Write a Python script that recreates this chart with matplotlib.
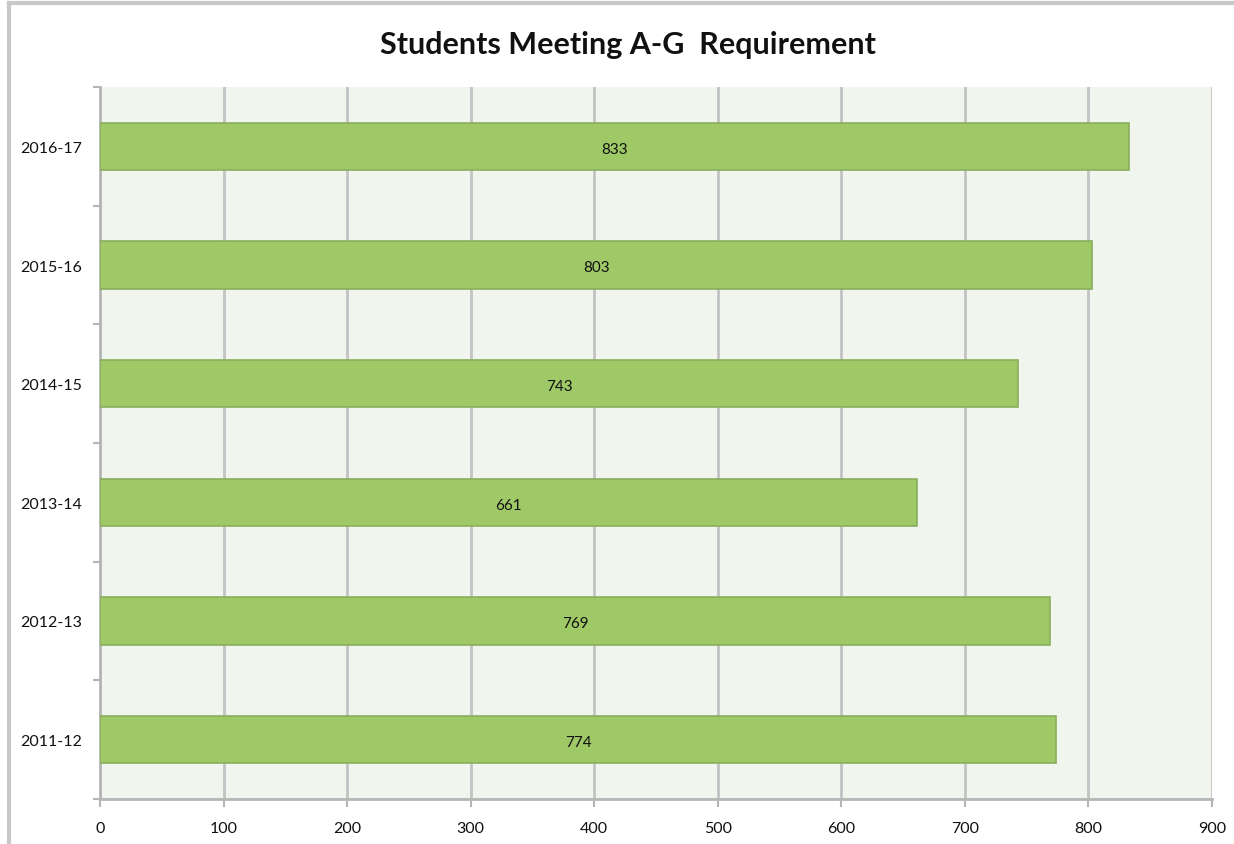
import matplotlib
matplotlib.use("Agg")
import matplotlib.pyplot as plt
from matplotlib.lines import Line2D
import numpy as np

categories = ["2011-12", "2012-13", "2013-14", "2014-15", "2015-16", "2016-17"]
values = [774, 769, 661, 743, 803, 833]
xticks = [0, 100, 200, 300, 400, 500, 600, 700, 800, 900]
title = "Students Meeting A-G  Requirement"

plt.rcParams['font.family'] = ['Lato', 'DejaVu Sans']

fig = plt.figure(figsize=(12.34, 8.45), dpi=100)
ax = fig.add_axes([100/1234, 1 - 800/845, 1112/1234, 712/845])
ax.set_facecolor("#f0f5ee")

y = np.arange(len(categories))
bars = ax.barh(y, values, height=0.40, color="#9fc966", edgecolor="#8aae5c", linewidth=1.2, zorder=3)
for yi, v in zip(y, values):
    ax.text(v / 2, yi - 0.02, str(v), ha="center", va="center", fontsize=11, color="#111111", zorder=4)

ax.set_xlim(0, 900)
ax.set_ylim(-0.5, len(categories) - 0.5)
ax.set_xticks(xticks)
ax.set_xticklabels([str(t) for t in xticks], fontsize=11.5, color="#111111")
ax.set_yticks(y)
ax.set_yticklabels(categories, fontsize=11.5, color="#111111")
ax.set_yticks(np.arange(-0.5, len(categories), 1.0), minor=True)
ax.tick_params(axis="y", which="major", length=0, pad=13)
ax.tick_params(axis="y", which="minor", length=5, color="#b5b5b5", width=1.5)
ax.tick_params(axis="x", which="major", length=6, color="#b5b5b5", width=1.5, pad=10)
ax.xaxis.grid(True, color="#c3c3c3", linewidth=2, zorder=1)
ax.set_axisbelow(True)
for s in ["top", "right"]:
    ax.spines[s].set_visible(False)
for s in ["left", "bottom"]:
    ax.spines[s].set_color("#b5b5b5")
    ax.spines[s].set_linewidth(2)

fig.text(628/1234, 1 - 45/845, title, ha="center", va="center", fontsize=22, fontweight="bold", color="#111111")

# outer chart frame (cropped)
fig.add_artist(Line2D([9/1234, 9/1234], [0, 1 - 4/845], transform=fig.transFigure, color="#c8c8c8", linewidth=3))
fig.add_artist(Line2D([9/1234, 1], [1 - 4/845, 1 - 4/845], transform=fig.transFigure, color="#c8c8c8", linewidth=3))

fig.savefig("out.png", dpi=100)
